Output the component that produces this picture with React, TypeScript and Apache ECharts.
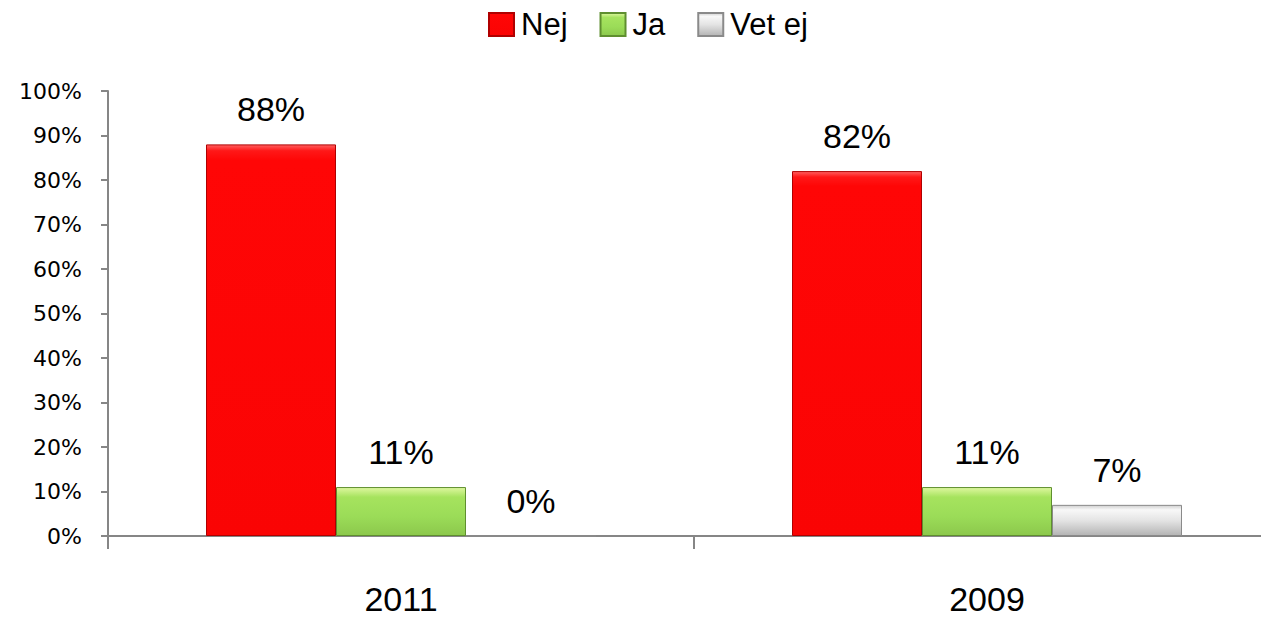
import React, { useEffect, useRef } from "react";
import * as echarts from "echarts";

const categories = ["2011", "2009"];
const seriesNames = ["Nej", "Ja", "Vet ej"];
const nejValues = [88, 82];
const jaValues = [11, 11];
const vetEjValues = [0, 7];
const yTicks = [0, 10, 20, 30, 40, 50, 60, 70, 80, 90, 100];

export default function App() {
  const ref = useRef<HTMLDivElement>(null);
  useEffect(() => {
    if (!ref.current) return;
    const chart = echarts.init(ref.current, undefined, { renderer: "svg" });
    const labelStyle = {
      show: true,
      position: "top",
      distance: 18,
      formatter: "{c}%",
      fontFamily: "Liberation Sans",
      fontSize: 34,
      color: "#000",
    };
    const red = new echarts.graphic.LinearGradient(0, 0, 0, 1, [
      { offset: 0, color: "#ff6060" },
      { offset: 0.015, color: "#ff1818" },
      { offset: 0.04, color: "#ff0606" },
      { offset: 1, color: "#fa0404" },
    ]);
    const green = new echarts.graphic.LinearGradient(0, 0, 0, 1, [
      { offset: 0, color: "#dff7a0" },
      { offset: 0.2, color: "#a6e35e" },
      { offset: 0.6, color: "#9bdc58" },
      { offset: 1, color: "#8cc84c" },
    ]);
    const grey = new echarts.graphic.LinearGradient(0, 0, 0, 1, [
      { offset: 0, color: "#d0d0d0" },
      { offset: 0.15, color: "#f8f8f8" },
      { offset: 0.5, color: "#e4e4e4" },
      { offset: 1, color: "#b4b4b4" },
    ]);
    chart.setOption({
      animation: false,
      legend: {
        data: seriesNames,
        icon: "rect",
        left: 483,
        top: 4,
        itemWidth: 25,
        itemHeight: 23,
        itemGap: 32,
        textStyle: { fontFamily: "Liberation Sans", fontSize: 31, color: "#000", padding: [0, 0, 0, 2] },
      },
      grid: { left: 108, top: 91, width: 1172, height: 445, containLabel: false },
      xAxis: {
        type: "category",
        data: categories,
        axisLine: { lineStyle: { color: "#868686", width: 2 } },
        axisTick: { show: true, length: 13, lineStyle: { color: "#868686", width: 2 } },
        axisLabel: { margin: 46, fontFamily: "Liberation Sans", fontSize: 34, lineHeight: 34, color: "#000" },
      },
      yAxis: {
        type: "value",
        min: yTicks[0],
        max: yTicks[yTicks.length - 1],
        interval: 10,
        splitLine: { show: false },
        axisLine: { show: true, lineStyle: { color: "#868686", width: 2 } },
        axisTick: { show: true, length: 7, lineStyle: { color: "#868686", width: 2 } },
        axisLabel: { formatter: "{value}%", margin: 26, fontFamily: "DejaVu Sans", fontSize: 22, color: "#000" },
      },
      series: [
        {
          name: seriesNames[0],
          type: "bar",
          data: nejValues,
          barWidth: 130,
          barGap: "0%",
          itemStyle: { color: red, borderColor: "#b00000", borderWidth: 1 },
          label: labelStyle,
        },
        {
          name: seriesNames[1],
          type: "bar",
          data: jaValues,
          barWidth: 130,
          barGap: "0%",
          itemStyle: { color: green, borderColor: "#5f8f2f", borderWidth: 1 },
          label: labelStyle,
        },
        {
          name: seriesNames[2],
          type: "bar",
          data: vetEjValues,
          barWidth: 130,
          barGap: "0%",
          itemStyle: { color: grey, borderColor: "#8a8a8a", borderWidth: 1 },
          label: labelStyle,
        },
      ],
    });
    return () => chart.dispose();
  }, []);
  return (
    <div
      style={{ position: "fixed", left: 0, top: 0, width: 1261, height: 619, overflow: "hidden", background: "#fff" }}
    >
      <div ref={ref} style={{ width: 1290, height: 619 }} />
    </div>
  );
}
